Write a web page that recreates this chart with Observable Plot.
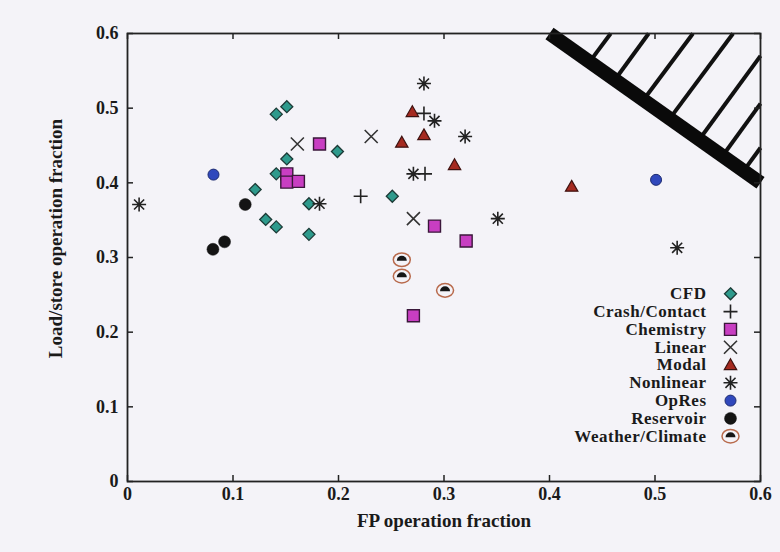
<!DOCTYPE html>
<html>
<head>
<meta charset="utf-8">
<script src="https://cdn.jsdelivr.net/npm/d3@7"></script>
<script src="https://cdn.jsdelivr.net/npm/@observablehq/plot@0.6"></script>
<style>
  html, body { margin: 0; padding: 0; background: #f4f3f8; }
  #chart svg { display: block; background: #f4f3f8; }
  .legend-text text { letter-spacing: 0.5px; }
</style>
</head>
<body>
<div id="chart"></div>
<script>
// ---- data ----
const categories = ["CFD", "Crash/Contact", "Chemistry", "Linear", "Modal", "Nonlinear", "OpRes", "Reservoir", "Weather/Climate"];
const cfd = [[0.141,0.492],[0.151,0.502],[0.199,0.442],[0.151,0.432],[0.141,0.412],[0.121,0.391],[0.131,0.351],[0.141,0.341],[0.172,0.372],[0.172,0.331],[0.251,0.382]];
const crash = [[0.281,0.493],[0.282,0.412],[0.221,0.382]];
const chemistry = [[0.182,0.452],[0.151,0.412],[0.151,0.401],[0.162,0.402],[0.291,0.342],[0.321,0.322],[0.271,0.222]];
const linear = [[0.161,0.452],[0.231,0.462],[0.271,0.352]];
const modal = [[0.270,0.495],[0.281,0.464],[0.260,0.454],[0.310,0.424],[0.421,0.395]];
const nonlinear = [[0.011,0.371],[0.182,0.372],[0.281,0.533],[0.291,0.483],[0.320,0.462],[0.271,0.412],[0.351,0.352],[0.521,0.313]];
const opres = [[0.0815,0.411],[0.501,0.404]];
const reservoir = [[0.1116,0.371],[0.092,0.321],[0.081,0.311]];
const weather = [[0.260,0.297],[0.260,0.275],[0.301,0.256]];
const seriesData = [cfd, crash, chemistry, linear, modal, nonlinear, opres, reservoir, weather];

const xTicks = [0, 0.1, 0.2, 0.3, 0.4, 0.5, 0.6];
const xTickLabels = ["0", "0.1", "0.2", "0.3", "0.4", "0.5", "0.6"];
const yTicks = [0, 0.1, 0.2, 0.3, 0.4, 0.5, 0.6];
const yTickLabels = ["0", "0.1", "0.2", "0.3", "0.4", "0.5", "0.6"];

// infeasible region boundary (x + y = 1) and hatch strokes
const boundary = [[0.4, 0.6], [0.6, 0.4]];
const hatchBase = [[0.438,0.562],[0.462,0.538],[0.489,0.511],[0.514,0.486],[0.542,0.458],[0.564,0.436],[0.584,0.416]];
const hatchEnd  = [[0.458,0.6],[0.494,0.6],[0.536,0.6],[0.574,0.6],[0.6,0.570],[0.6,0.506],[0.6,0.447]];

// ---- custom symbols ----
const R = size => Math.sqrt(size / Math.PI);
const sym = {
  diamond: {draw(c, s) { const r = R(s); c.moveTo(0,-r); c.lineTo(r,0); c.lineTo(0,r); c.lineTo(-r,0); c.closePath(); }},
  square: {draw(c, s) { const r = R(s); c.rect(-r,-r,2*r,2*r); }},
  plus: {draw(c, s) { const r = R(s); c.moveTo(-r,0); c.lineTo(r,0); c.moveTo(0,-r); c.lineTo(0,r); }},
  times: {draw(c, s) { const r = R(s); c.moveTo(-r,-r); c.lineTo(r,r); c.moveTo(-r,r); c.lineTo(r,-r); }},
  triangle: {draw(c, s) { const r = R(s); c.moveTo(0,-r); c.lineTo(r,0.75*r); c.lineTo(-r,0.75*r); c.closePath(); }},
  asterisk: {draw(c, s) { const r = R(s); const d = r*0.72;
    c.moveTo(-r,0); c.lineTo(r,0); c.moveTo(0,-r); c.lineTo(0,r);
    c.moveTo(-d,-d); c.lineTo(d,d); c.moveTo(-d,d); c.lineTo(d,-d); }},
  circle: {draw(c, s) { const r = R(s); c.moveTo(r,0); c.arc(0,0,r,0,2*Math.PI); }},
  ellipse: {draw(c, s) { const r = R(s); const rx = r, ry = r*0.8, k = 0.5523;
    c.moveTo(rx,0);
    c.bezierCurveTo(rx, ry*k, rx*k, ry, 0, ry);
    c.bezierCurveTo(-rx*k, ry, -rx, ry*k, -rx, 0);
    c.bezierCurveTo(-rx, -ry*k, -rx*k, -ry, 0, -ry);
    c.bezierCurveTo(rx*k, -ry, rx, -ry*k, rx, 0);
    c.closePath(); }},
  halfdisc: {draw(c, s) { const r = R(s); c.moveTo(-r, 1); c.arc(0, 1, r, Math.PI, 2*Math.PI); c.closePath(); }}
};

// style layers per category
const styles = [
  [{symbol: sym.diamond, r: 6, fill: "#2e9a8c", stroke: "#1c3a36", strokeWidth: 1.3}],
  [{symbol: sym.plus, r: 7, fill: "none", stroke: "#222", strokeWidth: 1.6}],
  [{symbol: sym.square, r: 6, fill: "#c83ec2", stroke: "#3a173a", strokeWidth: 1.4}],
  [{symbol: sym.times, r: 6.5, fill: "none", stroke: "#333", strokeWidth: 1.6}],
  [{symbol: sym.triangle, r: 6.2, fill: "#a52a20", stroke: "#3e1210", strokeWidth: 1.2}],
  [{symbol: sym.asterisk, r: 7, fill: "none", stroke: "#222", strokeWidth: 1.6}],
  [{symbol: sym.circle, r: 5.5, fill: "#3048bc", stroke: "#1c2a70", strokeWidth: 1}],
  [{symbol: sym.circle, r: 6, fill: "#141414", stroke: "#141414", strokeWidth: 0.5}],
  [{symbol: sym.ellipse, r: 8.5, fill: "none", stroke: "#b86a4c", strokeWidth: 1.5},
   {symbol: sym.halfdisc, r: 5, fill: "#161616", stroke: "none", strokeWidth: 0}]
];

const font = "'Liberation Serif', 'DejaVu Serif', serif";
const ink = "#1a1a1a";

const marks = [];

// boundary and hatch
marks.push(Plot.link(hatchBase, {
  x1: d => d[0], y1: d => d[1],
  x2: (d, i) => hatchEnd[i][0], y2: (d, i) => hatchEnd[i][1],
  stroke: "#111", strokeWidth: 4
}));
marks.push(Plot.link([boundary], {
  x1: d => d[0][0], y1: d => d[0][1], x2: d => d[1][0], y2: d => d[1][1],
  stroke: "#0a0a0a", strokeWidth: 14, strokeLinecap: "butt"
}));

// frame and inward ticks
marks.push(Plot.frame({stroke: "#222", strokeWidth: 1.8}));
marks.push(Plot.tickX(xTicks, {x: d => d, insetTop: 442, stroke: "#222", strokeWidth: 1.5}));
marks.push(Plot.tickX(xTicks, {x: d => d, insetBottom: 442, stroke: "#222", strokeWidth: 1.5}));
marks.push(Plot.tickY(yTicks, {y: d => d, insetRight: 627, stroke: "#222", strokeWidth: 1.5}));
marks.push(Plot.tickY(yTicks, {y: d => d, insetLeft: 627, stroke: "#222", strokeWidth: 1.5}));

// tick labels
marks.push(Plot.text(xTicks, {x: d => d, text: (d, i) => xTickLabels[i], frameAnchor: "bottom", dy: 13, lineAnchor: "middle",
  fontSize: 18, fontWeight: "bold", fontFamily: font, fill: ink}));
marks.push(Plot.text(yTicks, {y: d => d, text: (d, i) => yTickLabels[i], frameAnchor: "left", dx: -9, textAnchor: "end", lineAnchor: "middle",
  fontSize: 18, fontWeight: "bold", fontFamily: font, fill: ink}));

// axis titles
marks.push(Plot.text(["FP operation fraction"], {text: d => d, frameAnchor: "bottom", dy: 39, lineAnchor: "middle",
  fontSize: 19, fontWeight: "bold", fontFamily: font, fill: ink}));
marks.push(Plot.text(["Load/store operation fraction"], {text: d => d, frameAnchor: "left", dx: -72, dy: -19, rotate: -90,
  textAnchor: "middle", lineAnchor: "middle",
  fontSize: 19, fontWeight: "bold", fontFamily: font, fill: ink}));

// data points
seriesData.forEach((data, k) => {
  styles[k].forEach(st => {
    marks.push(Plot.dot(data, {x: d => d[0], y: d => d[1], ...st}));
  });
});

// legend
categories.forEach((name, i) => {
  const dy = -(187.7 - i * 17.8);
  marks.push(Plot.text([name], {text: d => d, frameAnchor: "bottom-right", dx: -54, dy, textAnchor: "end", lineAnchor: "middle",
    className: "legend-text", fontSize: 17, fontWeight: "bold", fontFamily: font, fill: ink}));
  styles[i].forEach(st => {
    marks.push(Plot.dot([name], {frameAnchor: "bottom-right", dx: -30, dy, ...st}));
  });
});

const chart = Plot.plot({
  width: 780,
  height: 552,
  marginLeft: 127,
  marginRight: 20,
  marginTop: 33,
  marginBottom: 71,
  style: {background: "#f4f3f8", fontFamily: font},
  x: {domain: [0, 0.6], axis: null},
  y: {domain: [0, 0.6], axis: null},
  marks
});
document.getElementById("chart").appendChild(chart);
</script>
</body>
</html>
